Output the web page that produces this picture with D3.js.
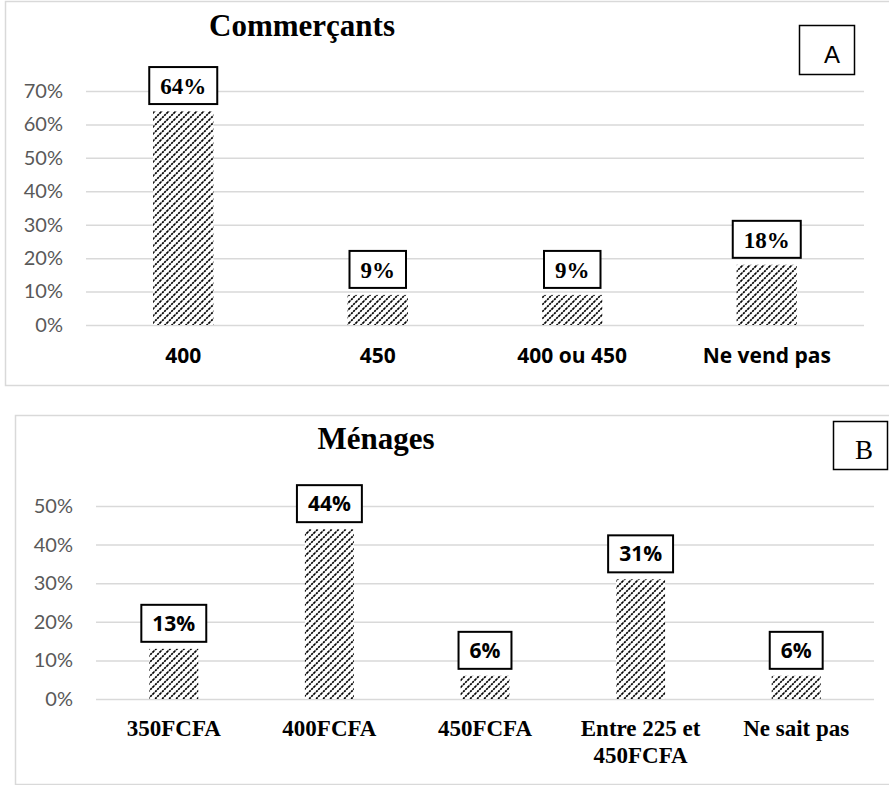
<!DOCTYPE html>
<html>
<head>
<meta charset="utf-8">
<script src="https://cdn.jsdelivr.net/npm/d3@7"></script>
<style>
  html, body { margin: 0; padding: 0; background: #fff; }
  svg { display: block; }
</style>
</head>
<body>
<svg id="chart" width="889" height="785"></svg>
<script>
// Panel A: traders
const categoriesA = ["400", "450", "400 ou 450", "Ne vend pas"];
const valuesA = [0.64, 0.09, 0.09, 0.18];
const ticksA = [0, 0.1, 0.2, 0.3, 0.4, 0.5, 0.6, 0.7];

// Panel B: households
const categoriesB = ["350FCFA", "400FCFA", "450FCFA", "Entre 225 et\n450FCFA", "Ne sait pas"];
const valuesB = [0.13, 0.44, 0.06, 0.31, 0.06];
const ticksB = [0, 0.1, 0.2, 0.3, 0.4, 0.5];

const svg = d3.select("#chart");

// Diagonal hatch used to fill every bar
const defs = svg.append("defs");
const P = 7;
const pat = defs.append("pattern")
  .attr("id", "hatch")
  .attr("patternUnits", "userSpaceOnUse")
  .attr("width", P).attr("height", P);
pat.append("rect").attr("width", P).attr("height", P).attr("fill", "#fff");
pat.append("path")
  .attr("d", `M-1,${P + 1} L${P + 1},-1 M${-P / 2 - 1},${P / 2 + 1} L${P / 2 + 1},${-P / 2 - 1} M${P / 2 - 1},${P * 1.5 + 1} L${P * 1.5 + 1},${P / 2 - 1}`)
  .attr("stroke", "#000").attr("stroke-width", 1.7)
  .attr("stroke-dasharray", "2.2,0.8");

const fmt = d3.format(".0%");
const sansBold = "'Open Sans', Lato, sans-serif";
const serif = "'Liberation Serif', 'Times New Roman', serif";

function drawPanel(cfg) {
  const g = svg.append("g");

  // outer frame
  g.append("rect")
    .attr("x", cfg.frame[0] + 0.5).attr("y", cfg.frame[1] + 0.5)
    .attr("width", cfg.frame[2] - cfg.frame[0]).attr("height", cfg.frame[3] - cfg.frame[1])
    .attr("fill", "none").attr("stroke", "#d9d9d9").attr("stroke-width", 1.5);

  const x = d3.scaleBand()
    .domain(cfg.categories)
    .range([cfg.left, cfg.right])
    .paddingInner(cfg.pad).paddingOuter(cfg.pad / 2);
  const y = d3.scaleLinear()
    .domain([0, d3.max(cfg.ticks)])
    .range([cfg.bottom, cfg.top]);

  // gridlines
  const grid = g.append("g")
    .attr("transform", `translate(${cfg.left},0)`)
    .call(d3.axisLeft(y).tickValues(cfg.ticks).tickSize(-(cfg.right - cfg.left)).tickFormat(""));
  grid.select(".domain").remove();
  grid.selectAll(".tick line").attr("stroke", "#d9d9d9").attr("stroke-width", 1.5);

  // y tick labels
  const yAxis = g.append("g")
    .attr("transform", `translate(${cfg.left - cfg.tickGap},0)`)
    .call(d3.axisLeft(y).tickValues(cfg.ticks).tickSize(0).tickPadding(0).tickFormat(fmt));
  yAxis.select(".domain").remove();
  yAxis.selectAll(".tick text")
    .attr("fill", "#595959")
    .style("font-family", "Lato, 'Open Sans', sans-serif")
    .style("font-size", "20px");

  // bars
  g.selectAll(".bar")
    .data(cfg.values)
    .join("rect")
    .attr("x", (d, i) => x(cfg.categories[i]))
    .attr("y", d => y(d))
    .attr("width", x.bandwidth())
    .attr("height", d => y(0) - y(d))
    .attr("fill", "url(#hatch)");

  // category labels
  cfg.categories.forEach(c => {
    const lines = c.split("\n");
    const t = g.append("text")
      .attr("x", x(c) + x.bandwidth() / 2)
      .attr("y", cfg.bottom + cfg.catOffset)
      .attr("text-anchor", "middle")
      .attr("fill", "#000")
      .style("font-family", cfg.catFont)
      .style("font-weight", "700")
      .style("font-size", cfg.catSize + "px");
    lines.forEach((ln, k) => {
      t.append("tspan")
        .attr("x", x(c) + x.bandwidth() / 2)
        .attr("dy", k === 0 ? 0 : cfg.lineHeight)
        .text(ln);
    });
  });

  // boxed value labels
  cfg.values.forEach((v, i) => {
    const cx = x(cfg.categories[i]) + x.bandwidth() / 2;
    const boxBottom = y(v) - 7;
    const boxTop = boxBottom - 37;
    const lab = g.append("g");
    const rect = lab.append("rect");
    const txt = lab.append("text")
      .attr("x", cx)
      .attr("y", (boxTop + boxBottom) / 2)
      .attr("dy", "0.36em")
      .attr("text-anchor", "middle")
      .attr("fill", "#000")
      .style("font-family", cfg.valFont)
      .style("font-weight", "700")
      .style("font-size", cfg.valSize + "px")
      .text(fmt(v));
    const w = txt.node().getComputedTextLength() + 2 * cfg.valPad;
    rect.attr("x", cx - w / 2).attr("y", boxTop)
      .attr("width", w).attr("height", boxBottom - boxTop)
      .attr("fill", "#fff").attr("stroke", "#000").attr("stroke-width", 2);
  });

  // title
  g.append("text")
    .attr("x", cfg.titleX).attr("y", cfg.titleY)
    .attr("text-anchor", "middle")
    .style("font-family", serif)
    .style("font-weight", "bold")
    .style("font-size", "31px")
    .text(cfg.title);

  // panel letter badge
  const b = cfg.badge;
  g.append("rect")
    .attr("x", b.x + 0.5).attr("y", b.y + 0.5)
    .attr("width", b.w).attr("height", b.h)
    .attr("fill", "#fff").attr("stroke", "#000").attr("stroke-width", 1.5);
  g.append("text")
    .attr("x", b.tx).attr("y", b.ty)
    .attr("text-anchor", "middle")
    .style("font-family", b.font)
    .style("font-size", b.size + "px")
    .text(b.label);
}

drawPanel({
  categories: categoriesA, values: valuesA, ticks: ticksA,
  frame: [5, 1, 900, 385],
  left: 86, right: 864, top: 91, bottom: 325, pad: 0.69, tickGap: 23,
  catFont: sansBold, catSize: 21, catOffset: 38, lineHeight: 28,
  valFont: serif, valSize: 23, valPad: 11,
  title: "Commerçants", titleX: 302, titleY: 36,
  badge: { x: 799, y: 25, w: 55, h: 49, label: "A", tx: 832, ty: 63,
           font: "'Liberation Sans', Arial, sans-serif", size: 24 }
});

drawPanel({
  categories: categoriesB, values: valuesB, ticks: ticksB,
  frame: [15, 415, 900, 784],
  left: 96, right: 874, top: 506, bottom: 699, pad: 0.685, tickGap: 23,
  catFont: serif, catSize: 23, catOffset: 37, lineHeight: 27,
  valFont: sansBold, valSize: 21, valPad: 11,
  title: "Ménages", titleX: 376, titleY: 449,
  badge: { x: 833, y: 421, w: 54, h: 48, label: "B", tx: 864, ty: 459,
           font: serif, size: 27 }
});
</script>
</body>
</html>
